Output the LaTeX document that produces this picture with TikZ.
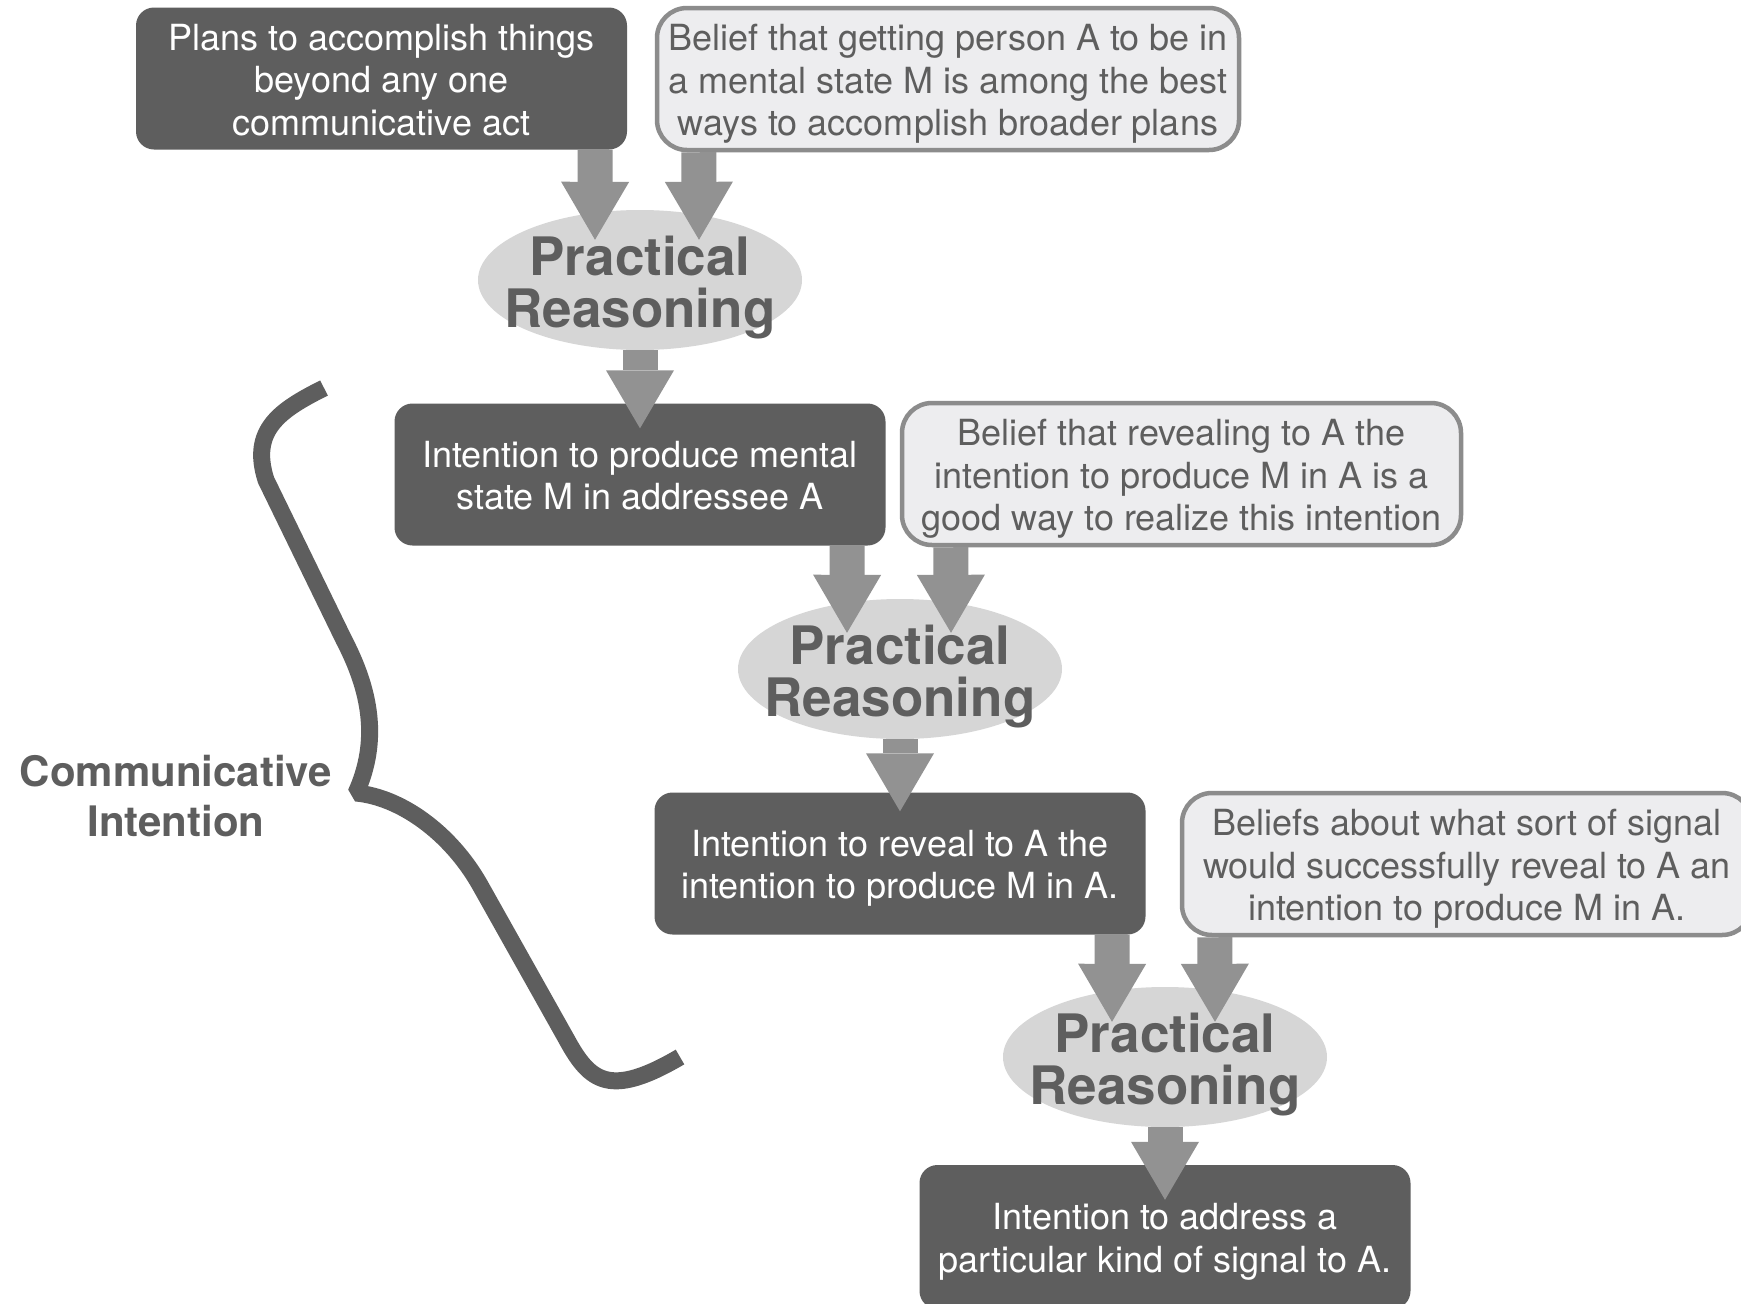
\documentclass[tikz,border=0pt]{standalone}
\usepackage{fontspec}
\setmainfont{TeX Gyre Heros}
\usetikzlibrary{arrows.meta,shapes.geometric}

\definecolor{boxdark}{HTML}{5E5E5E}
\definecolor{boxlight}{HTML}{EDEDEF}
\definecolor{boxedge}{HTML}{8C8C8C}
\definecolor{flowgray}{HTML}{929292}
\definecolor{reasonfill}{HTML}{D6D6D6}
\definecolor{inkgray}{HTML}{5E5E5E}

% struts that give every box text the same top and bottom
\newcommand{\boxtopstrut}{\rule{0pt}{36pt}}
\newcommand{\boxbotstrut}{\rule[-8pt]{0pt}{0pt}}

\begin{document}
\begin{tikzpicture}[x=1pt,y=-1pt,
  boxtext/.style={align=center, inner sep=0pt,
    font=\fontsize{36}{42.5}\selectfont},
  darkbox/.style={boxtext, rectangle, rounded corners=18pt, fill=boxdark,
    text=white, minimum width=491pt, minimum height=142pt},
  lightbox/.style={boxtext, rectangle, rounded corners=30pt, fill=boxlight,
    draw=boxedge, line width=4.5pt, text=inkgray, minimum height=142pt},
  reasoning/.style={ellipse, fill=reasonfill, minimum width=324pt,
    minimum height=140pt, inner sep=0pt},
  reasontext/.style={text=inkgray, align=center, inner sep=0pt,
    font=\fontsize{53}{52}\selectfont\bfseries},
  flow/.style={draw=flowgray, line width=35pt,
    -{Triangle[width=68pt,length=58pt,line width=0pt]}},
  bracestroke/.style={draw=boxdark, line width=17pt, line join=bevel, line cap=butt},
]
\fill[white] (0,0) rectangle (1741,1304);
\useasboundingbox (0,0) rectangle (1741,1304);

% --- boxes and reasoning steps ---
\node[darkbox] (b1) at (381.5,78.5)
  {\boxtopstrut Plans to accomplish things\\beyond any one\\communicative act\boxbotstrut};
\node[lightbox, minimum width=582pt] (b2) at (948,79)
  {\boxtopstrut Belief that getting person A to be in\\a mental state M is among the best\\ways to accomplish broader plans\boxbotstrut};
\node[reasoning] (pr1) at (640,280) {};

\node[darkbox] (b3) at (640,474.5)
  {\boxtopstrut Intention to produce mental\\state M in addressee A\boxbotstrut};
\node[lightbox, minimum width=559pt] (b4) at (1181.5,474)
  {\boxtopstrut Belief that revealing to A the\\intention to produce M in A is a\\good way to realize this intention\boxbotstrut};
\node[reasoning] (pr2) at (900,669) {};

\node[darkbox] (b5) at (900,863.5)
  {\boxtopstrut Intention to reveal to A the\\intention to produce M in A.\boxbotstrut};
\node[lightbox, minimum width=570pt] (b6) at (1467,864)
  {\boxtopstrut Beliefs about what sort of signal\\would successfully reveal to A an\\intention to produce M in A.\boxbotstrut};
\node[reasoning] (pr3) at (1165,1057) {};

\node[darkbox, minimum height=144pt] (b7) at (1165,1237)
  {\boxtopstrut Intention to address a\\particular kind of signal to A.\boxbotstrut};

% --- flow arrows ---
\draw[flow] ([xshift=-32pt]b1.south east) -- ([xshift=-45pt,yshift=-30pt]pr1.north);
\draw[flow] ([xshift=44pt]b2.south west) -- ([xshift=59pt,yshift=-30pt]pr1.north);
\draw[flow] (pr1.south) -- ([yshift=-25pt]b3.north);

\draw[flow] ([xshift=-38.5pt]b3.south east) -- ([xshift=-53pt,yshift=-34pt]pr2.north);
\draw[flow] ([xshift=51pt]b4.south west) -- ([xshift=51pt,yshift=-34pt]pr2.north);
\draw[flow] (pr2.south) -- ([yshift=-19pt]b5.north);

\draw[flow] ([xshift=-33.5pt]b5.south east) -- ([xshift=-53pt,yshift=-35pt]pr3.north);
\draw[flow] ([xshift=35pt]b6.south west) -- ([xshift=50pt,yshift=-35pt]pr3.north);
\draw[flow] (pr3.south) -- ([yshift=-35pt]b7.north);

% --- labels of the reasoning steps ---
\node[reasontext] (pr1t) at ([yshift=-7.5pt]pr1.center) {Practical\\Reasoning};
\node[reasontext] (pr2t) at ([yshift=-7.5pt]pr2.center) {Practical\\Reasoning};
\node[reasontext] (pr3t) at ([yshift=-7.5pt]pr3.center) {Practical\\Reasoning};

% --- curly brace grouping the communicative intention ---
\path[bracestroke] (324,388) .. controls (280,410) and (250,430) .. (266,480)
  -- (344,640) .. controls (370,690) and (380,740) .. (356,793)
  .. controls (400,797) and (450,832) .. (480,885)
  -- (567,1040) .. controls (590,1082) and (610,1098) .. (680,1057);

\node[text=inkgray, align=center, inner sep=0pt,
  font=\fontsize{42}{50}\selectfont\bfseries] (ci) at (176,796)
  {Communicative\\Intention};
\end{tikzpicture}
\end{document}
